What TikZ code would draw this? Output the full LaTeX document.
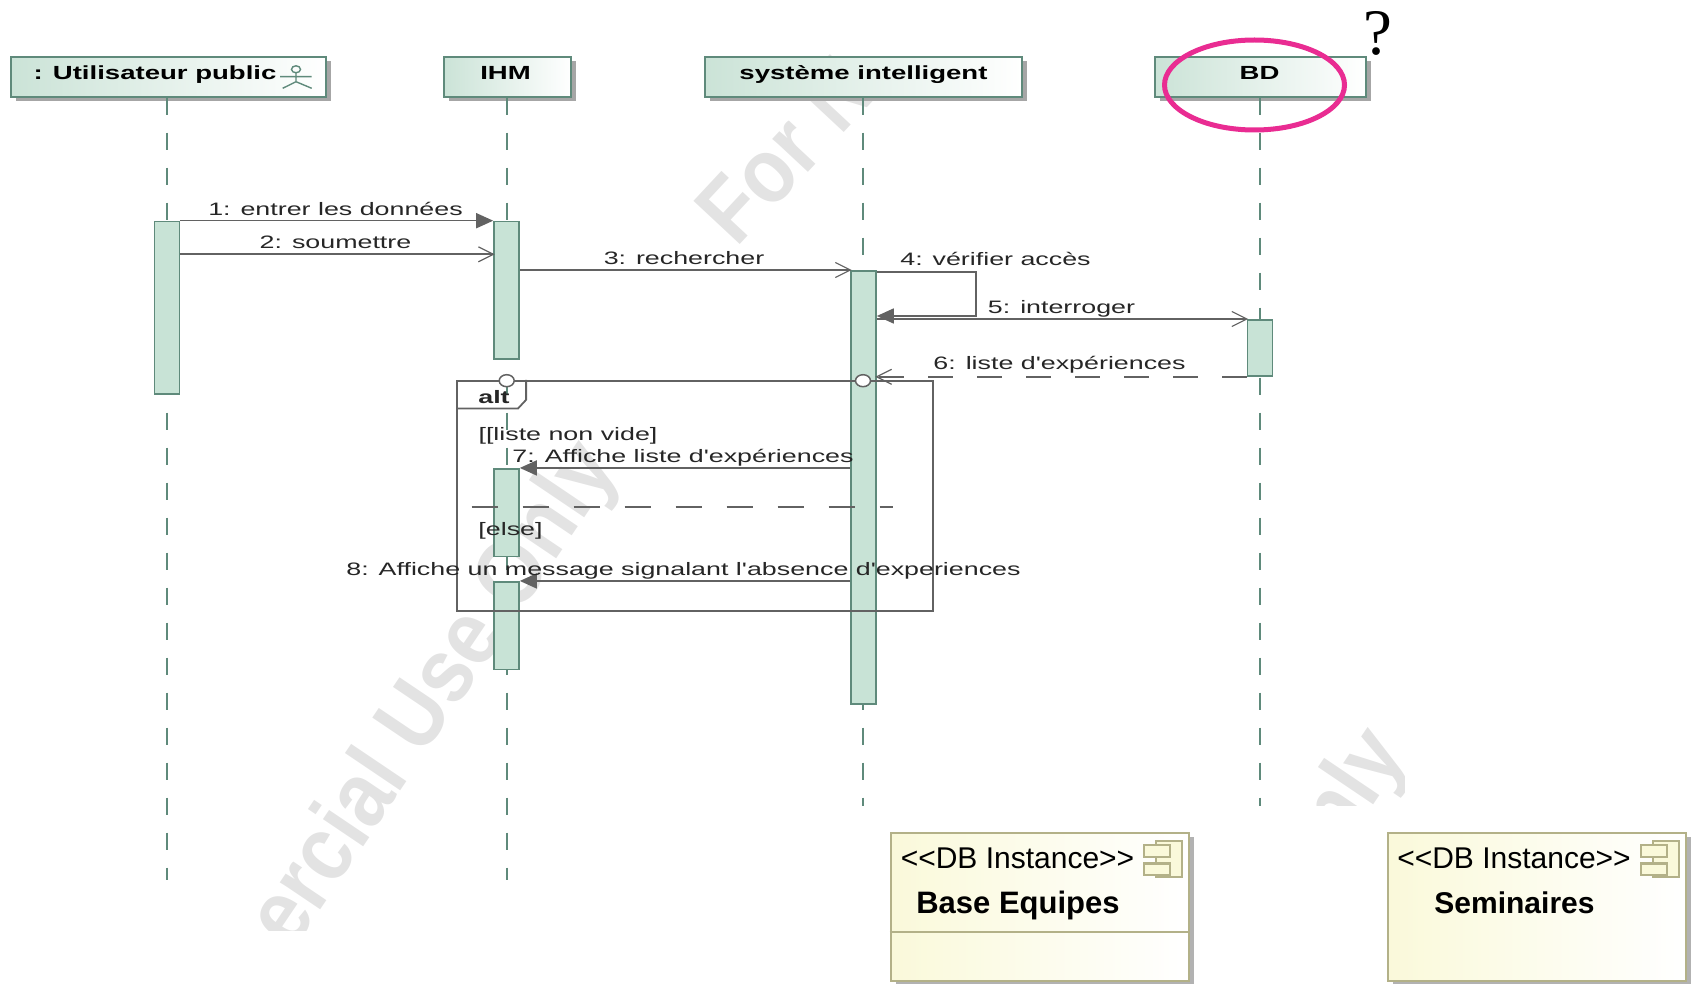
\documentclass[tikz,border=0pt]{standalone}
\usepackage{fontspec}
\newfontfamily\plainfont{Liberation Sans}
\newfontfamily\qfont{Liberation Serif}
\usetikzlibrary{arrows.meta}
\usetikzlibrary{shadows}
\usetikzlibrary{shapes.geometric}
\definecolor{lifegreen}{HTML}{5F8A7B}
\definecolor{headgreen}{HTML}{CBE3D7}
\definecolor{barfill}{HTML}{C8E3D6}
\definecolor{msggray}{HTML}{626262}
\definecolor{markgray}{HTML}{E3E3E3}
\definecolor{dbline}{HTML}{B3B188}
\definecolor{dbfill}{HTML}{FAF9DA}
\definecolor{ringpink}{HTML}{E92C92}
\newcommand{\msgtext}[1]{\scalebox{1.49}[1]{#1}}
\newcommand{\headtext}[1]{\scalebox{1.45}[1]{#1}}
\newcommand{\marktext}[1]{\scalebox{0.88}[1]{#1}}
\tikzset{
    headbox/.style={draw=lifegreen,line width=1.8pt,left color=headgreen,right color=white,
        minimum height=39.4pt,inner sep=0pt,drop shadow={shadow xshift=5pt,shadow yshift=-4pt,fill=black!35,opacity=1}},
    headlabel/.style={anchor=base,inner sep=0pt,font=\plainfont\fontsize{19}{21}\selectfont\bfseries},
    lifeline/.style={draw=lifegreen,line width=1.6pt,dash pattern=on 17.5pt off 17.5pt},
    actbar/.style={draw=lifegreen,line width=1.6pt,fill=barfill,minimum width=25pt,inner sep=0pt},
    msgline/.style={draw=msggray,line width=1.6pt},
    openhead/.style={-{Straight Barb[length=15pt,width=15pt,line width=1.2pt]},shorten >=-1.5pt},
    fullhead/.style={-{Triangle[length=17pt,width=15pt]}},
    msglabel/.style={anchor=base,inner sep=0pt,font=\plainfont\fontsize{18}{20}\selectfont,text=black!85},
    frameline/.style={draw=msggray,line width=1.8pt},
    fragmark/.style={ellipse,draw=msggray,line width=1.5pt,fill=white,minimum width=15pt,minimum height=12pt,inner sep=0pt},
    dbbox/.style={draw=dbline,line width=2pt,left color=dbfill,right color=white,minimum width=298pt,minimum height=148pt,
        inner sep=0pt,drop shadow={shadow xshift=5pt,shadow yshift=-4pt,fill=black!30,opacity=1}},
    dblabel/.style={anchor=base,inner sep=0pt,font=\plainfont\fontsize{30}{32}\selectfont},
    dbicon/.style={draw=dbline,line width=2.4pt,fill=dbfill},
    watermark/.style={inner sep=0pt,text=markgray,font=\plainfont\fontsize{92}{92}\selectfont\bfseries},
}
\begin{document}
\begin{tikzpicture}[x=1pt,y=-1pt]
                    \useasboundingbox (0,0) rectangle (1695,984);
                    % watermark
                    \begin{scope}
                        \clip (255,50) rectangle (1404,930);
                        \node[watermark,rotate=56] (markone) at (436,696) {\marktext{ercial Use Only}};
                        \node[watermark,rotate=47] (marktwo) at (786,150) {\marktext{For N}};
                    \end{scope}
                    \begin{scope}
                        \clip (1250,700) rectangle (1404,805.7);
                        \node[watermark,rotate=56] (markthree) at (1356,789) {\marktext{nly}};
                    \end{scope}
                    % heads
                    \node[headbox,minimum width=315pt] (huser) at (168.5,77) {};
                    \node[headbox,minimum width=127pt] (hihm) at (507.5,77) {};
                    \node[headbox,minimum width=317pt] (hsys) at (863.5,77) {};
                    \node[headbox,minimum width=211pt] (hbd) at (1260.5,77) {};
                    \node[headlabel] (tuser) at (155,80) {\headtext{: Utilisateur public}};
                    \node[headlabel] (tihm) at (505.5,80) {\headtext{IHM}};
                    \node[headlabel] (tsys) at (863.5,80) {\headtext{système intelligent}};
                    \node[headlabel] (tbd) at (1259.5,80) {\headtext{BD}};
                    % little actor
                    \draw[draw=lifegreen,line width=1.4pt] (296,69.3) ellipse (4.5 and 3.5);
                    \draw[draw=lifegreen,line width=1.4pt] (296,73) -- (296,81.7) (280,76.7) -- (311.7,76.7) (282.7,88.3) -- (296,81.7) -- (311.7,88.3);
                    % lifelines
                    \coordinate (euser) at (167,880);
                    \coordinate (eihm) at (507,880);
                    \coordinate (esys) at (863,805.7);
                    \coordinate (ebd) at (1260,805.7);
                    \draw[lifeline] (huser.south -| euser) -- (euser);
                    \draw[lifeline] (hihm.south -| eihm) -- (eihm);
                    \draw[lifeline] (hsys.south -| esys) -- (esys);
                    \draw[lifeline] (hbd.south -| ebd) -- (ebd);
                    % activation bars
                    \node[actbar,minimum height=172.2pt] (auser) at (167,307.6) {};
                    \node[actbar,minimum height=137.2pt] (aihm) at (506.5,290.1) {};
                    \node[actbar,minimum height=433.2pt] (asys) at (863.5,487.4) {};
                    \node[actbar,minimum height=56.2pt] (abd) at (1260,347.9) {};
                    \node[actbar,minimum height=87.9pt] (aihmb) at (506.5,512.7) {};
                    \node[actbar,minimum height=87.9pt] (aihmc) at (506.5,625.7) {};
                    % alt frame
                    \node[frameline,draw,minimum width=476pt,minimum height=230.6pt,inner sep=0pt] (altframe) at (695,496) {};
                    \draw[frameline] ([xshift=70pt]altframe.north west) -- ([xshift=70pt,yshift=-20pt]altframe.north west) -- ([xshift=62pt,yshift=-28.6pt]altframe.north west) -- ([yshift=-28.6pt]altframe.north west);
                    \node[fragmark] (markihm) at (506.7,380.7) {};
                    \node[fragmark] (marksys) at (863,380.7) {};
                    \coordinate (sepa) at (471.5,507);
                    \coordinate (sepb) at (893,507);
                    \draw[frameline,line width=1.5pt,dash pattern=on 26pt off 25pt] (sepa) -- (sepb);
                    % messages
                    \draw[msgline,fullhead] (auser.north east) -- (aihm.north west);
                    \draw[msgline,openhead] ([yshift=-33.6pt]auser.north east) -- ([yshift=-33.6pt]aihm.north west);
                    \draw[msgline,openhead] ([yshift=-49.3pt]aihm.north east) -- (asys.north west);
                    \draw[msgline,fullhead] ([yshift=-2pt]asys.north east) -| ([xshift=99pt,yshift=-46pt]asys.north east) -- ([yshift=-46pt]asys.north east);
                    \draw[msgline,openhead] ([yshift=-49pt]asys.north east) -- (abd.north west);
                    \draw[msgline,dash pattern=on 25pt off 24pt,openhead] (abd.south west) -- (asys.east |- abd.south);
                    \draw[msgline,fullhead] ([yshift=-197.95pt]asys.north west) -- (aihmb.north east);
                    \draw[msgline,fullhead] ([yshift=-310.95pt]asys.north west) -- (aihmc.north east);
                    % message texts
                    \node[msglabel] (lone) at (335.5,215.7) {\msgtext{1: entrer les données}};
                    \node[msglabel] (ltwo) at (335.5,248.5) {\msgtext{2: soumettre}};
                    \node[msglabel] (lthree) at (684,265) {\msgtext{3: rechercher}};
                    \node[msglabel] (lfour) at (995.5,266) {\msgtext{4: vérifier accès}};
                    \node[msglabel] (lfive) at (1061.5,313.3) {\msgtext{5: interroger}};
                    \node[msglabel] (lsix) at (1059.5,369.3) {\msgtext{6: liste d'expériences}};
                    \node[msglabel] (lseven) at (683,462.7) {\msgtext{7: Affiche liste d'expériences}};
                    \node[msglabel] (leight) at (683.5,575) {\msgtext{8: Affiche un message signalant l'absence d'experiences}};
                    \node[msglabel] (lguard) at (568,440.7) {\msgtext{[[liste non vide]}};
                    \node[msglabel] (lelse) at (510.5,535) {\msgtext{[else]}};
                    \node[msglabel,font=\plainfont\fontsize{18}{20}\selectfont\bfseries] (lalt) at (494,403.3) {\msgtext{alt}};
                    % database boxes
                    \node[dbbox] (dbbase) at (1039.5,906.5) {};
                    \node[dbbox] (dbsem) at (1536.5,906.5) {};
                    \draw[draw=dbline,line width=2pt] ([yshift=-100.4pt]dbbase.north west) -- ([yshift=-100.4pt]dbbase.north east);
                    \node[dblabel] (stbase) at (1017.5,868) {<<DB Instance>>};
                    \node[dblabel] (stsem) at (1514,868) {<<DB Instance>>};
                    \node[dblabel,font=\plainfont\fontsize{31}{32}\selectfont\bfseries] (nbase) at (1018,913.3) {Base Equipes};
                    \node[dblabel,font=\plainfont\fontsize{30}{32}\selectfont\bfseries] (nsem) at (1514.5,913.3) {Seminaires};
                    \foreach \dx in {0,497}{
                        \draw[dbicon] (1156+\dx,841) rectangle (1181.7+\dx,876.7);
                        \draw[dbicon] (1144+\dx,845) rectangle (1170+\dx,856.7);
                        \draw[dbicon] (1144+\dx,863.3) rectangle (1170+\dx,875);
                    }
                    % the question on BD
                    \draw[draw=ringpink,line width=5pt] (1254.5,85) ellipse (90 and 45);
                    \node[inner sep=0pt,font=\qfont\fontsize{65}{65}\selectfont] (quest) at (1377.5,33) {?};
                \end{tikzpicture}
\end{document}
